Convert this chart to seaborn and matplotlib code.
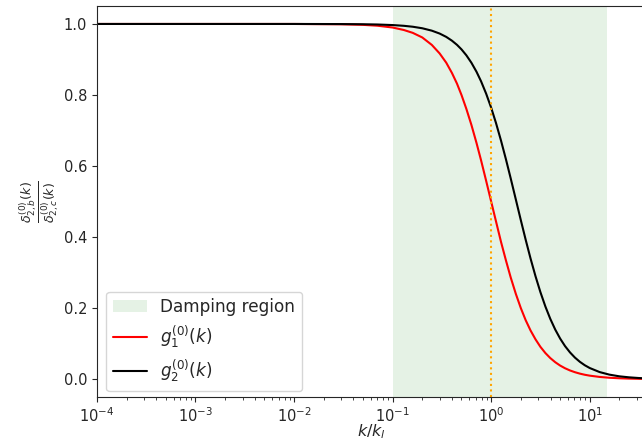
import numpy as np
import pandas as pd
import matplotlib
matplotlib.use("Agg")
import matplotlib.pyplot as plt
import seaborn as sns

# Values
k_vals = [1e-4, 1e-3, 1e-2, 0.03, 0.05, 0.07, 0.1, 0.13, 0.16, 0.2, 0.25, 0.3, 0.35, 0.4,
          0.45, 0.5, 0.56, 0.63, 0.71, 0.79, 0.89, 1.0, 1.12, 1.26, 1.41, 1.58, 1.78, 2.0,
          2.24, 2.51, 2.82, 3.16, 3.55, 3.98, 4.47, 5.01, 5.62, 6.31, 7.08, 7.94, 8.91,
          10.0, 12.6, 15.8, 20.0, 25.0, 31.6, 36.6]
g1 = [1.0, 1.0, 1.0, 0.9991, 0.9975, 0.9951, 0.990, 0.983, 0.975, 0.962, 0.941, 0.917,
      0.891, 0.862, 0.832, 0.800, 0.761, 0.716, 0.665, 0.616, 0.558, 0.500, 0.444, 0.386,
      0.335, 0.286, 0.240, 0.200, 0.166, 0.137, 0.112, 0.091, 0.0735, 0.0594, 0.0477,
      0.0383, 0.0307, 0.0245, 0.0196, 0.0156, 0.0124, 0.0099, 0.0063, 0.0040, 0.0025,
      0.0016, 0.0010, 0.00075]
g2 = [1.0, 1.0, 1.0, 0.9997, 0.9992, 0.9985, 0.9969, 0.9948, 0.9922, 0.9879, 0.9811,
      0.9730, 0.9636, 0.9529, 0.9412, 0.9284, 0.9118, 0.8909, 0.8654, 0.8385, 0.8035,
      0.7642, 0.7209, 0.6711, 0.6197, 0.5648, 0.5056, 0.4475, 0.3924, 0.3396, 0.2895,
      0.2450, 0.2045, 0.1698, 0.1395, 0.1143, 0.0930, 0.0753, 0.0607, 0.0489, 0.0392,
      0.0314, 0.0200, 0.0128, 0.0080, 0.0052, 0.0032, 0.0024]

damp_lo, damp_hi = 0.1, 15.0
k_mark = 1.0
x_min, x_max = 1e-4, 10 ** 1.563

sns.set_style("ticks")
plt.rcParams["font.family"] = ["DejaVu Sans"]
plt.rcParams["font.size"] = 11.5
plt.rcParams["mathtext.fontset"] = "dejavusans"

fig = plt.figure(figsize=(6.42, 4.43), dpi=100)
ax = fig.add_axes([0.151, 0.104, 0.854, 0.882])

ax.axvspan(damp_lo, damp_hi, color="green", alpha=0.1, lw=0, label="Damping region")

df = pd.DataFrame({"k": k_vals, "g1": g1, "g2": g2})
sns.lineplot(data=df, x="k", y="g1", ax=ax, color="red", lw=1.5, sort=False,
             estimator=None, label=r"$g_1^{(0)}(k)$")
sns.lineplot(data=df, x="k", y="g2", ax=ax, color="black", lw=1.5, sort=False,
             estimator=None, label=r"$g_2^{(0)}(k)$")
ax.axvline(k_mark, color="orange", ls=":", lw=1.5)

ax.set_xscale("log")
ax.set_xlim(x_min, x_max)
ax.set_ylim(-0.05, 1.05)
ax.set_yticks([0.0, 0.2, 0.4, 0.6, 0.8, 1.0])
ax.set_xlabel(r"$k/k_l$", fontsize=11.5, labelpad=-2.5)
ax.set_ylabel(r"$\frac{\delta^{(0)}_{2,b}(k)}{\delta^{(0)}_{2,c}(k)}$", fontsize=13, labelpad=2)
ax.tick_params(labelsize=10.5)
ax.legend(loc="lower left", fontsize=12.2, borderaxespad=0.35, labelspacing=0.42,
          bbox_to_anchor=(0.006, 0.0))

fig.savefig("out.png", dpi=100)
